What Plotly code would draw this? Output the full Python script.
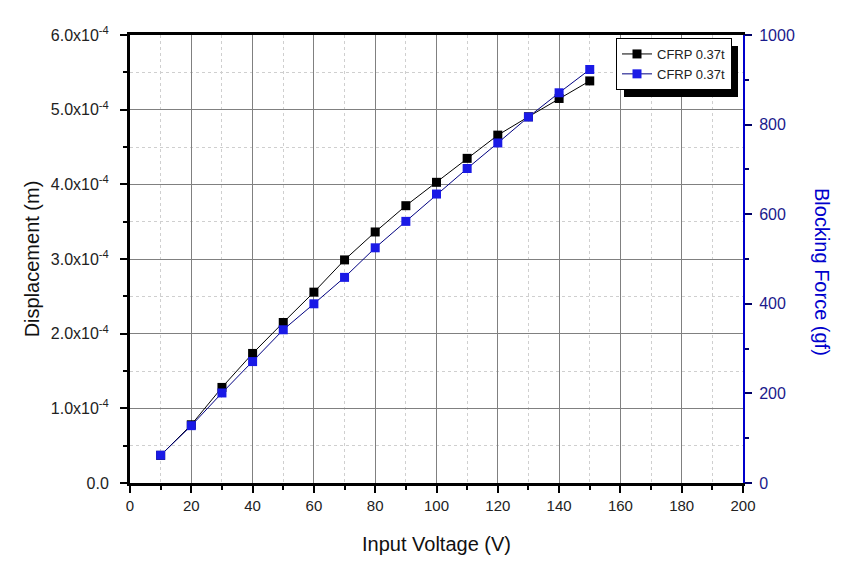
import plotly.graph_objects as go

voltage = [10, 20, 30, 40, 50, 60, 70, 80, 90, 100, 110, 120, 130, 140, 150]
displacement = [0.37e-4, 0.78e-4, 1.28e-4, 1.735e-4, 2.15e-4, 2.556e-4, 2.988e-4, 3.362e-4,
                3.714e-4, 4.027e-4, 4.348e-4, 4.659e-4, 4.905e-4, 5.15e-4, 5.385e-4]
blocking_force = [62, 128, 201, 271, 342, 400, 459, 525, 584, 645, 702, 759, 817, 871, 923]

series_names = ["CFRP 0.37t", "CFRP 0.37t"]
x_ticks = [0, 20, 40, 60, 80, 100, 120, 140, 160, 180, 200]
y_tickvals = [0, 1e-4, 2e-4, 3e-4, 4e-4, 5e-4, 6e-4]
y_ticktext = ["0.0", "1.0x10<sup>-4</sup>", "2.0x10<sup>-4</sup>", "3.0x10<sup>-4</sup>",
              "4.0x10<sup>-4</sup>", "5.0x10<sup>-4</sup>", "6.0x10<sup>-4</sup>"]
y2_ticks = [0, 200, 400, 600, 800, 1000]

FONT = "Liberation Sans, Arial, sans-serif"
BLUE = "#1A1AE6"
AXBLUE = "#0000CC"

fig = go.Figure()
fig.add_trace(go.Scatter(
    x=voltage, y=displacement, name=series_names[0], mode="lines+markers",
    line=dict(color="black", width=1),
    marker=dict(symbol="square", size=9, color="black"),
    yaxis="y"))
fig.add_trace(go.Scatter(
    x=voltage, y=blocking_force, name=series_names[1], mode="lines+markers",
    line=dict(color="#000080", width=1),
    marker=dict(symbol="square", size=9, color=BLUE),
    yaxis="y2"))

W, H = 865, 571
ml, mr, mt, mb = 130, 122, 35, 88
pw, ph = W - ml - mr, H - mt - mb

def px2paper_x(px):
    return (px - ml) / pw

def px2paper_y(py):
    return (H - mb - py) / ph

LEG_L, LEG_T = 616, 38
LEG_W, LEG_H = 114, 51

fig.update_layout(
    width=W, height=H,
    margin=dict(l=ml, r=mr, t=mt, b=mb, autoexpand=False),
    paper_bgcolor="white", plot_bgcolor="white",
    font=dict(family=FONT, size=15, color="#222222"),
    showlegend=True,
    legend=dict(x=px2paper_x(LEG_L), y=px2paper_y(LEG_T), xanchor="left", yanchor="top",
                bgcolor="white", bordercolor="black", borderwidth=1,
                font=dict(size=13, color="#222222"), itemwidth=30,
                tracegroupgap=0),
    xaxis=dict(
        range=[0, 200], tickvals=x_ticks, ticks="outside", ticklen=7, tickwidth=2,
        tickcolor="black", showline=True, linecolor="black", linewidth=3, mirror=True,
        showgrid=True, gridcolor="#808080", gridwidth=1, zeroline=False,
        minor=dict(dtick=10, ticks="outside", ticklen=4, tickwidth=2, tickcolor="black",
                   showgrid=True, gridcolor="#CFCFCF", griddash="dot", gridwidth=1),
        title=dict(text="Input Voltage (V)", font=dict(size=20, color="#111111"), standoff=24),
        tickfont=dict(size=15, color="#222222"),
    ),
    yaxis=dict(
        range=[0, 6e-4], tickvals=y_tickvals, ticktext=y_ticktext, ticks="outside",
        ticklen=7, tickwidth=2, tickcolor="black", showline=True, linecolor="black",
        linewidth=3, showgrid=True, gridcolor="#808080", gridwidth=1, zeroline=False,
        ticklabelstandoff=8,
        minor=dict(tickvals=[0.5e-4, 1.5e-4, 2.5e-4, 3.5e-4, 4.5e-4, 5.5e-4], ticks="outside",
                   ticklen=4, tickwidth=2, tickcolor="black", showgrid=True,
                   gridcolor="#CFCFCF", griddash="dot", gridwidth=1),
        title=dict(text="Displacement (m)", font=dict(size=20, color="#111111"), standoff=6),
        tickfont=dict(size=16, color="#222222"),
    ),
    yaxis2=dict(
        range=[0, 1000], tickvals=y2_ticks, overlaying="y", side="right", ticks="outside",
        ticklen=7, tickwidth=2, tickcolor="#000066", showline=True, linecolor=AXBLUE,
        linewidth=2, showgrid=False, zeroline=False, ticklabelstandoff=4,
        minor=dict(dtick=100, ticks="outside", ticklen=4, tickwidth=2, tickcolor="#000066"),
        tickfont=dict(size=16, color="#1A1A8C"),
    ),
    annotations=[dict(
        text="Blocking Force (gf)", xref="paper", yref="paper",
        x=px2paper_x(822), y=px2paper_y(272), textangle=90, showarrow=False,
        font=dict(size=20, color=AXBLUE, family=FONT), xanchor="center", yanchor="middle")],
    shapes=[dict(type="rect", xref="paper", yref="paper", layer="above",
                 x0=px2paper_x(LEG_L + 8), x1=px2paper_x(LEG_L + LEG_W + 8),
                 y0=px2paper_y(LEG_T + LEG_H + 8), y1=px2paper_y(LEG_T + 8),
                 fillcolor="black", line=dict(width=0))],
)

fig.write_html("out.html")
